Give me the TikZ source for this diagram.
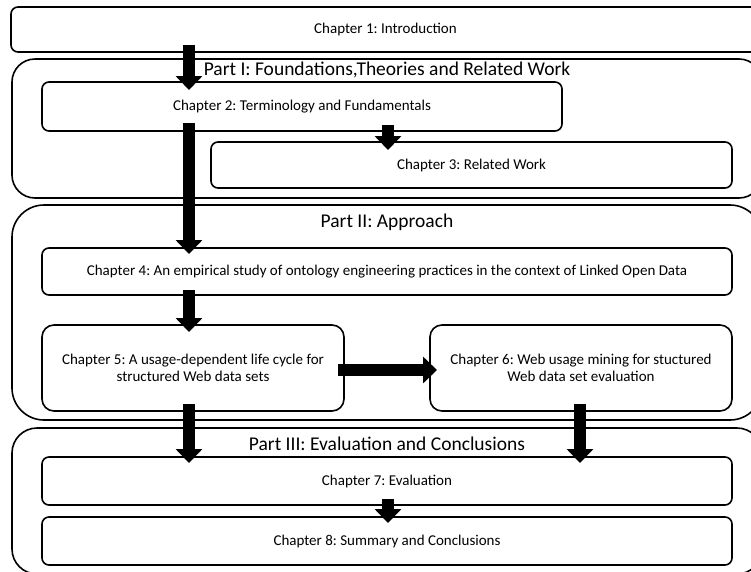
\documentclass[tikz,border=0pt]{standalone}
\usepackage{fontspec}
\setmainfont{Carlito}
\usetikzlibrary{arrows.meta,calc}
\frenchspacing
\begin{document}
\begin{tikzpicture}[x=1pt,y=-1pt,
  partbox/.style={draw=black, line width=1.6pt, rounded corners=#1, inner sep=0pt, outer sep=0pt, anchor=north west},
  chapbox/.style={draw=black, fill=white, line width=1.6pt, rounded corners=#1, inner sep=0pt, outer sep=0pt,
    anchor=north west, align=center, font=\fontsize{15}{17.5}\selectfont},
  parttitle/.style={inner sep=0pt, font=\fontsize{19.5}{22}\selectfont},
  blockarrow/.style={line width=11.5pt, -{Triangle[width=26pt,length=14pt]}}
]
\useasboundingbox (0,0) rectangle (751,571);
\clip (0,0) rectangle (751,571);

% column and row guides for the thick arrows
\coordinate (colL) at (189,0);
\coordinate (colM) at (388,0);
\coordinate (colR) at (580,0);
\coordinate (rowA) at (0,370);

% parts
\node[partbox=23pt, minimum width=750pt, minimum height=139pt] (p1) at (12,59) {};
\node[partbox=32pt, minimum width=750pt, minimum height=215pt] (p2) at (12,205) {};
\node[partbox=25pt, minimum width=750pt, minimum height=146pt] (p3) at (12,428) {};

\node[parttitle] (t1) at (387,70) {Part I: Foundations,Theories and Related Work};
\node[parttitle] (t2) at (387,222) {Part II: Approach};
\node[parttitle] (t3) at (387,444) {Part III: Evaluation and Conclusions};

% chapters
\node[chapbox=7pt, minimum width=749pt, minimum height=45pt] (c1) at (11,7) {Chapter 1: Introduction};
\node[chapbox=7pt, minimum width=520pt, minimum height=49pt] (c2) at (42,82) {Chapter 2: Terminology and Fundamentals};
\node[chapbox=7pt, minimum width=521pt, minimum height=46pt] (c3) at (211,142) {Chapter 3: Related Work};
\node[chapbox=7pt, minimum width=690pt, minimum height=47pt] (c4) at (42,248) {Chapter 4: An empirical study of ontology engineering practices in the context of Linked Open Data};
\node[chapbox=12pt, minimum width=302pt, minimum height=86pt] (c5) at (42,325) {Chapter 5: A usage-dependent life cycle for\\structured Web data sets};
\node[chapbox=12pt, minimum width=302pt, minimum height=86pt] (c6) at (430,325) {Chapter 6: Web usage mining for stuctured\\Web data set evaluation};
\node[chapbox=7pt, minimum width=690pt, minimum height=48pt] (c7) at (42,457) {Chapter 7: Evaluation};
\node[chapbox=7pt, minimum width=690pt, minimum height=48pt] (c8) at (42,517) {Chapter 8: Summary and Conclusions};

% reading order
\draw[blockarrow] ($(c1.south -| colL)+(0,-7)$) -- ($(c2.north -| colL)+(0,8)$);
\draw[blockarrow] ($(c2.south -| colM)+(0,-6)$) -- ($(c3.north -| colM)+(0,8)$);
\draw[blockarrow] ($(c2.south -| colL)+(0,-8)$) -- ($(c4.north -| colL)+(0,6)$);
\draw[blockarrow] ($(c4.south -| colL)+(0,-5)$) -- ($(c5.north -| colL)+(0,7)$);
\draw[blockarrow] ($(c5.east |- rowA)+(-6,0)$) -- ($(c6.west |- rowA)+(7,0)$);
\draw[blockarrow] ($(c5.south -| colL)+(0,-7)$) -- ($(c7.north -| colL)+(0,6)$);
\draw[blockarrow] ($(c6.south -| colR)+(0,-7)$) -- ($(c7.north -| colR)+(0,6)$);
\draw[blockarrow] ($(c7.south -| colM)+(0,-6)$) -- ($(c8.north -| colM)+(0,6)$);
\end{tikzpicture}
\end{document}
